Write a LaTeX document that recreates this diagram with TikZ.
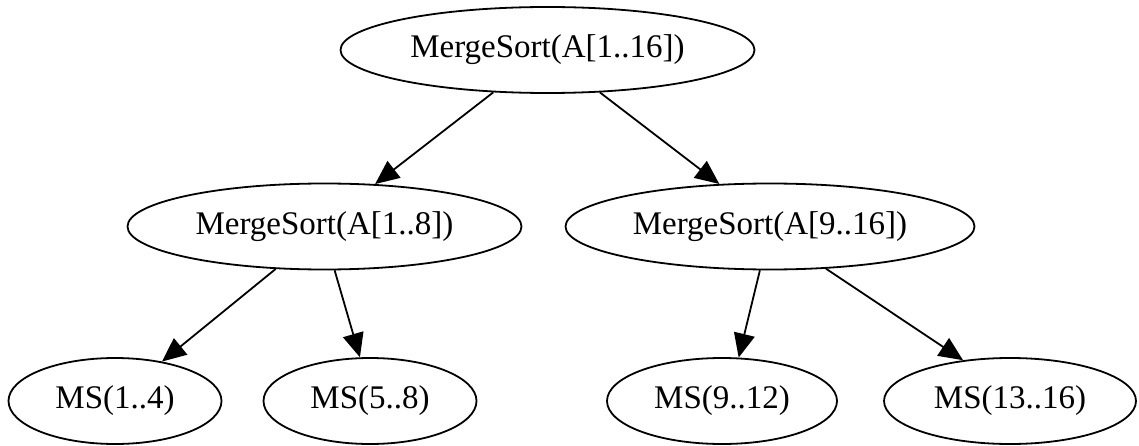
\documentclass[tikz,border=0pt]{standalone}
\usepackage{fontspec}
\setmainfont{Liberation Serif}
\usetikzlibrary{shapes.geometric,arrows.meta}
\tikzset{
  gv/.style={ellipse, draw, line width=1.8pt, inner sep=0pt, minimum height=86pt,
    font=\fontsize{33}{39}\selectfont},
  edge/.style={line width=1.8pt, -{Triangle[length=24pt,width=21pt]}}
}
\begin{document}
\begin{tikzpicture}[x=1pt,y=-1pt]
\useasboundingbox (0,0) rectangle (1139,446);
\node[gv, minimum width=414pt] (root) at (547.5,50) {MergeSort(A[1..16])};
\node[gv, minimum width=394pt] (ml) at (324.5,226.5) {MergeSort(A[1..8])};
\node[gv, minimum width=409pt] (mr) at (770,226.5) {MergeSort(A[9..16])};
\node[gv, minimum width=213pt] (l1) at (115,401) {MS(1..4)};
\node[gv, minimum width=213pt] (l2) at (370,401) {MS(5..8)};
\node[gv, minimum width=230pt] (l3) at (722,401) {MS(9..12)};
\node[gv, minimum width=252pt] (l4) at (1010,401) {MS(13..16)};
\draw[edge] (root.218.3) -- (ml.40.1);
\draw[edge] (root.321.7) -- (mr.140.2);
\draw[edge] (ml.221.3) -- (l1.40.3);
\draw[edge] (ml.283.6) -- (l2.103.4);
\draw[edge] (mr.257.3) -- (l3.69.1);
\draw[edge] (mr.323.6) -- (l4.139.7);
\end{tikzpicture}
\end{document}
